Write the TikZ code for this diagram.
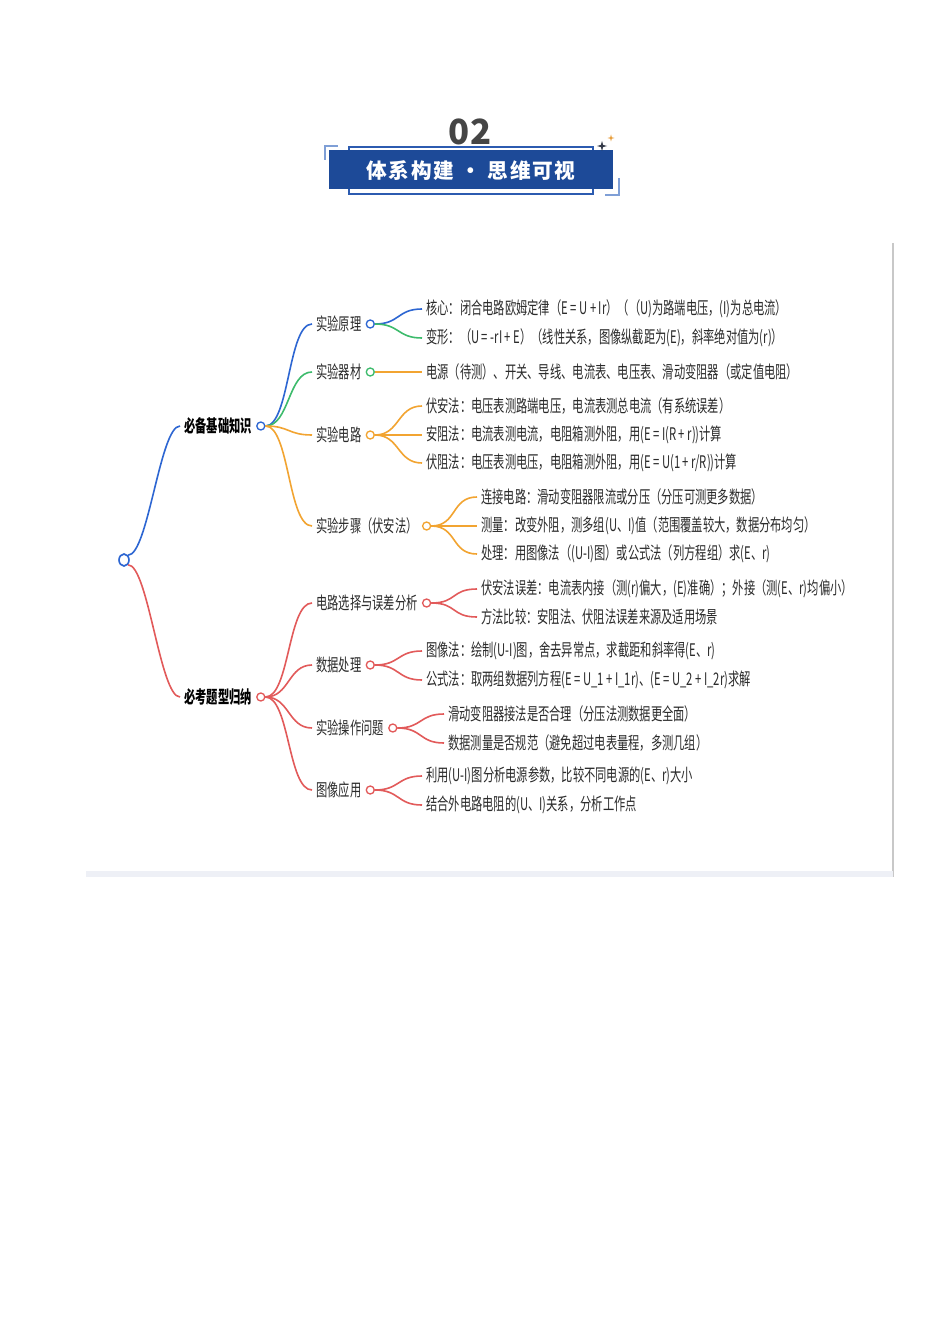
\documentclass[tikz,border=0pt]{standalone}
\usepackage{fontspec}
\setmainfont{Noto Sans CJK SC}[FakeStretch=0.65]
\newfontfamily\hdrfont{Noto Sans CJK SC}[LetterSpace=8]
\newfontfamily\numfont{Noto Sans CJK SC}
\usetikzlibrary{positioning,shapes.geometric}
\definecolor{cblue}{HTML}{2D66D2}
\definecolor{cgreen}{HTML}{3DBB6C}
\definecolor{corange}{HTML}{F2A431}
\definecolor{cred}{HTML}{E25A5A}
\definecolor{banner}{HTML}{1D4A98}
\definecolor{bline}{HTML}{2C5BB0}
\definecolor{lblue}{HTML}{7F9FD6}
\definecolor{txt}{HTML}{2B2B2B}
\definecolor{digit}{HTML}{454545}
\definecolor{band}{HTML}{EEF0F6}
\definecolor{framec}{HTML}{C8C8C8}
\definecolor{starc}{HTML}{E8A040}
\definecolor{stard}{HTML}{333A48}
\tikzset{
  lbl/.style={anchor=west, inner sep=0pt, text=txt, font=\fontsize{13pt}{15pt}\selectfont},
  toplbl/.style={anchor=west, inner sep=0pt, text=black, font=\fontsize{13pt}{15pt}\selectfont\bfseries},
  dot/.style={circle, draw=#1, fill=white, line width=1pt, minimum size=6pt, inner sep=0pt},
  link/.style={draw=#1, line width=1.2pt},
}
\newcommand\conn[4]{\draw[link=#1] (#2) .. controls +(#4,0) and +(-#4,0) .. (#3);}
\newcommand\fourstar[4]{\fill[#1] (#2,#3-#4) -- (#2+#4*0.22,#3-#4*0.22) -- (#2+#4,#3) -- (#2+#4*0.22,#3+#4*0.22) -- (#2,#3+#4) -- (#2-#4*0.22,#3+#4*0.22) -- (#2-#4,#3) -- (#2-#4*0.22,#3-#4*0.22) -- cycle;}
\begin{document}
\begin{tikzpicture}[x=0.75pt,y=-0.75pt]
\fill[white] (0,0) rectangle (950,1344);
\useasboundingbox (0,0) rectangle (950,1344);

% ---------- header ----------
\node[font=\numfont\fontsize{26pt}{28pt}\selectfont\bfseries, text=digit, inner sep=0pt] (num) at (470,132) {02};
\draw[bline, line width=1pt] (349,147) rectangle (593,194);
\fill[banner] (329,150) rectangle (613,189);
\draw[lblue, line width=1.3pt] (325,160) -- (325,146) -- (338,146);
\draw[lblue, line width=1.3pt] (605,195) -- (619,195) -- (619,178);
\fourstar{stard}{602}{146}{5}
\fourstar{starc}{611}{138}{3.5}
\node[font=\hdrfont\fontsize{15.5pt}{17pt}\selectfont\bfseries, text=white, inner sep=0pt] (title) at (471,171) {体系构建 • 思维可视};

% ---------- frame ----------
\draw[framec, line width=1.1pt] (893,243) -- (893,877);
\fill[band] (86,871) rectangle (893,877);

% ---------- root ----------
\node[ellipse, draw=cblue, fill=white, inner sep=0pt, minimum width=7.5pt, minimum height=9pt, line width=1.2pt] (R) at (124,560) {};

% ---------- level 1 ----------
\node[toplbl] (A) at (184,426) {必备基础知识};
\node[dot=cblue, right=3pt of A] (cA) {};
\node[toplbl] (B) at (184,697) {必考题型归纳};
\node[dot=cred, right=3pt of B] (cB) {};

% ---------- level 2 ----------
\node[lbl] (A1) at (316,324) {实验原理};
\node[dot=cblue, right=3pt of A1] (cA1) {};
\node[lbl] (A2) at (316,372) {实验器材};
\node[dot=cgreen, right=3pt of A2] (cA2) {};
\node[lbl] (A3) at (316,435) {实验电路};
\node[dot=corange, right=3pt of A3] (cA3) {};
\node[lbl] (A4) at (316,526) {实验步骤（伏安法）};
\node[dot=corange, right=3pt of A4] (cA4) {};

\node[lbl] (B1) at (316,603) {电路选择与误差分析};
\node[dot=cred, right=3pt of B1] (cB1) {};
\node[lbl] (B2) at (316,665) {数据处理};
\node[dot=cred, right=3pt of B2] (cB2) {};
\node[lbl] (B3) at (316,728) {实验操作问题};
\node[dot=cred, right=3pt of B3] (cB3) {};
\node[lbl] (B4) at (316,790) {图像应用};
\node[dot=cred, right=3pt of B4] (cB4) {};

% ---------- level 3 ----------
\node[lbl] (A1a) at (426,309) {核心：闭合电路欧姆定律（E = U + Ir）（（U)为路端电压，(I)为总电流）};
\node[lbl] (A1b) at (426,338) {变形：（U = -rI + E）（线性关系，图像纵截距为(E)，斜率绝对值为(r)）};
\node[lbl] (A2a) at (426,372) {电源（待测）、开关、导线、电流表、电压表、滑动变阻器（或定值电阻）};
\node[lbl] (A3a) at (426,406) {伏安法：电压表测路端电压，电流表测总电流（有系统误差）};
\node[lbl] (A3b) at (426,435) {安阻法：电流表测电流，电阻箱测外阻，用(E = I(R + r))计算};
\node[lbl] (A3c) at (426,463) {伏阻法：电压表测电压，电阻箱测外阻，用(E = U(1 + r/R))计算};
\node[lbl] (A4a) at (481,497) {连接电路：滑动变阻器限流或分压（分压可测更多数据）};
\node[lbl] (A4b) at (481,526) {测量：改变外阻，测多组(U、I)值（范围覆盖较大，数据分布均匀）};
\node[lbl] (A4c) at (481,554) {处理：用图像法（(U-I)图）或公式法（列方程组）求(E、r)};

\node[lbl] (B1a) at (481,589) {伏安法误差：电流表内接（测(r)偏大，(E)准确）；外接（测(E、r)均偏小）};
\node[lbl] (B1b) at (481,617) {方法比较：安阻法、伏阻法误差来源及适用场景};
\node[lbl] (B2a) at (426,651) {图像法：绘制(U-I)图，舍去异常点，求截距和斜率得(E、r)};
\node[lbl] (B2b) at (426,680) {公式法：取两组数据列方程(E = U\_1 + I\_1r)、(E = U\_2 + I\_2r)求解};
\node[lbl] (B3a) at (448,714) {滑动变阻器接法是否合理（分压法测数据更全面）};
\node[lbl] (B3b) at (448,743) {数据测量是否规范（避免超过电表量程，多测几组）};
\node[lbl] (B4a) at (426,776) {利用(U-I)图分析电源参数，比较不同电源的(E、r)大小};
\node[lbl] (B4b) at (426,805) {结合外电路电阻的(U、I)关系，分析工作点};

% ---------- connectors ----------
\conn{cblue}{R.north east}{[xshift=-3pt]A.west}{20}
\conn{cred}{R.south east}{[xshift=-3pt]B.west}{20}

\conn{cblue}{cA.east}{[xshift=-3pt]A1.west}{24}
\conn{cgreen}{cA.east}{[xshift=-3pt]A2.west}{24}
\conn{corange}{cA.east}{[xshift=-3pt]A3.west}{24}
\conn{corange}{cA.east}{[xshift=-3pt]A4.west}{24}

\conn{cred}{cB.east}{[xshift=-3pt]B1.west}{24}
\conn{cred}{cB.east}{[xshift=-3pt]B2.west}{24}
\conn{cred}{cB.east}{[xshift=-3pt]B3.west}{24}
\conn{cred}{cB.east}{[xshift=-3pt]B4.west}{24}

\conn{cblue}{cA1.east}{[xshift=-3pt]A1a.west}{25}
\conn{cgreen}{cA1.east}{[xshift=-3pt]A1b.west}{25}
\conn{corange}{cA2.east}{[xshift=-3pt]A2a.west}{25}
\conn{corange}{cA3.east}{[xshift=-3pt]A3a.west}{25}
\conn{corange}{cA3.east}{[xshift=-3pt]A3b.west}{25}
\conn{corange}{cA3.east}{[xshift=-3pt]A3c.west}{25}
\conn{corange}{cA4.east}{[xshift=-3pt]A4a.west}{26}
\conn{corange}{cA4.east}{[xshift=-3pt]A4b.west}{26}
\conn{corange}{cA4.east}{[xshift=-3pt]A4c.west}{26}

\conn{cred}{cB1.east}{[xshift=-3pt]B1a.west}{26}
\conn{cred}{cB1.east}{[xshift=-3pt]B1b.west}{26}
\conn{cred}{cB2.east}{[xshift=-3pt]B2a.west}{25}
\conn{cred}{cB2.east}{[xshift=-3pt]B2b.west}{25}
\conn{cred}{cB3.east}{[xshift=-3pt]B3a.west}{25}
\conn{cred}{cB3.east}{[xshift=-3pt]B3b.west}{25}
\conn{cred}{cB4.east}{[xshift=-3pt]B4a.west}{25}
\conn{cred}{cB4.east}{[xshift=-3pt]B4b.west}{25}
\end{tikzpicture}
\end{document}
